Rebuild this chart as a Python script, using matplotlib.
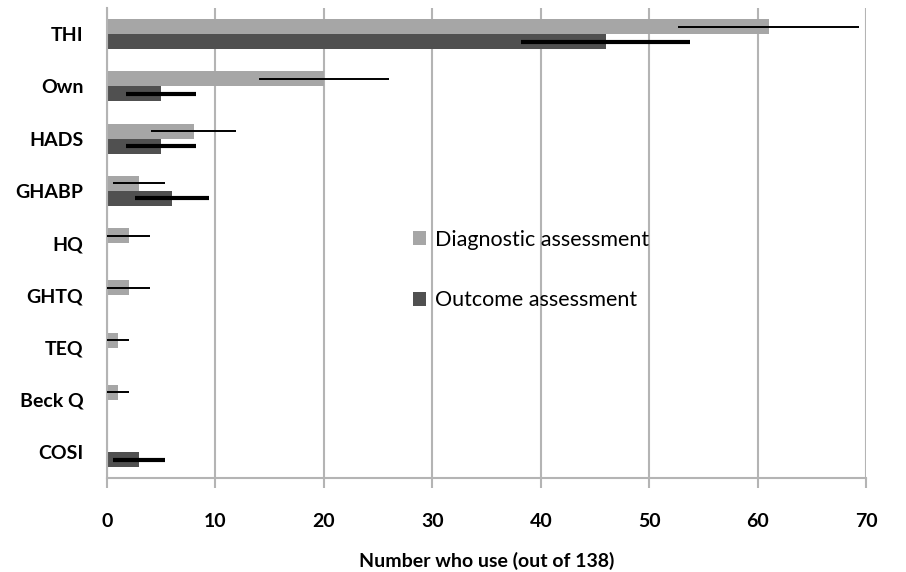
import matplotlib.pyplot as plt
import numpy as np

plt.rcParams['font.family'] = ['Lato', 'DejaVu Sans']

# data (top to bottom)
tools = ['THI', 'Own', 'HADS', 'GHABP', 'HQ', 'GHTQ', 'TEQ', 'Beck Q', 'COSI']
diagnostic = [61, 20, 8, 3, 2, 2, 1, 1, 0]
diagnostic_err = [8.3, 6.0, 3.9, 2.4, 2.0, 2.0, 1.0, 1.0, 0]
outcome = [46, 5, 5, 6, 0, 0, 0, 0, 3]
outcome_err = [7.8, 3.2, 3.2, 3.4, 0, 0, 0, 0, 2.4]

fig = plt.figure(figsize=(9.06, 5.72), dpi=100)
ax = fig.add_axes([0.118, 0.164, 0.838, 0.822])

y = np.arange(len(tools))
h = 0.285
grey = '#b4b4b4'

ax.barh(y - h / 2, diagnostic, height=h, color='#a6a6a6',
        label='Diagnostic assessment', zorder=2)
ax.barh(y + h / 2, outcome, height=h, color='#505050',
        label='Outcome assessment', zorder=2)
ax.errorbar(diagnostic, y - h / 2, xerr=diagnostic_err, fmt='none',
            ecolor='black', elinewidth=1.4, capsize=0, zorder=3)
ax.errorbar(outcome, y + h / 2, xerr=outcome_err, fmt='none',
            ecolor='black', elinewidth=3, capsize=0, zorder=3)

ax.set_xlim(0, 70)
ax.set_ylim(len(tools) - 0.5, -0.5)
ax.set_xticks(np.arange(0, 71, 10))
ax.set_yticks(y)
ax.set_yticklabels(tools, fontsize=14, fontweight='bold')
ax.tick_params(axis='y', length=0, pad=17)
ax.tick_params(axis='x', length=7, width=1.5, color=grey, pad=18,
               labelsize=14)
for lab in ax.get_xticklabels():
    lab.set_fontweight('bold')

ax.grid(axis='x', color=grey, linewidth=1.5, zorder=0)
ax.set_axisbelow(True)
for s in ['top', 'right']:
    ax.spines[s].set_visible(False)
for s in ['left', 'bottom']:
    ax.spines[s].set_color(grey)
    ax.spines[s].set_linewidth(1.5)

ax.set_xlabel('Number who use (out of 138)', fontsize=14,
              fontweight='bold', labelpad=16)

leg = ax.legend(loc='upper left', bbox_to_anchor=(0.378, 0.57), frameon=False,
                fontsize=15.5, handlelength=0.6, handleheight=0.6,
                handletextpad=0.4, labelspacing=1.9)

fig.savefig('out.png', dpi=100)
